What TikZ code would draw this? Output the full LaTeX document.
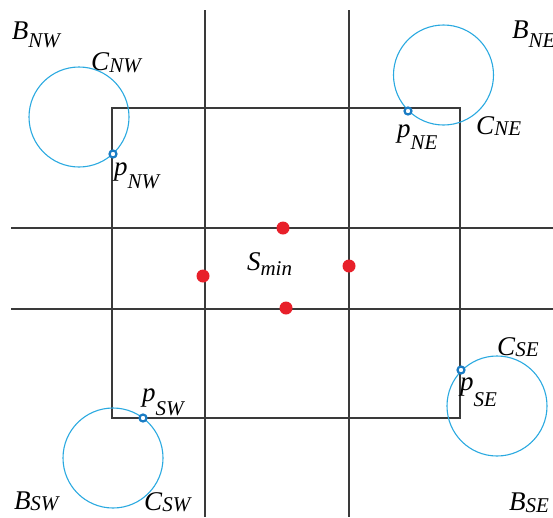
\documentclass[tikz,border=0pt]{standalone}
\usepackage{fontspec}
\setmainfont{Liberation Serif}
\newcommand{\lbl}[3]{\fontsize{27}{27}\selectfont\textit{#1}\raisebox{-#3pt}{\fontsize{21}{21}\selectfont\textit{#2}}}
\definecolor{linegray}{HTML}{3A3A3A}
\definecolor{circblue}{HTML}{2AA9E0}
\definecolor{ptblue}{HTML}{1A7CC4}
\definecolor{dotred}{HTML}{E8202A}
\begin{document}
\begin{tikzpicture}[x=1pt,y=-1pt,
  gridline/.style={draw=linegray,line width=1.3pt},
  region/.style={draw=linegray,line width=1.3pt},
  circ/.style={draw=circblue,line width=1.1pt},
  ptmark/.style={draw=ptblue,line width=2.2pt,fill=white},
  reddot/.style={fill=dotred,draw=none},
  lab/.style={anchor=base west,inner sep=0pt,outer sep=0pt}]
\useasboundingbox (0,0) rectangle (553,517);
% grid lines
\coordinate (v1t) at (205,10); \coordinate (v1b) at (205,517);
\coordinate (v2t) at (349,10); \coordinate (v2b) at (349,517);
\coordinate (h1l) at (11,228); \coordinate (h1r) at (553,228);
\coordinate (h2l) at (11,309); \coordinate (h2r) at (553,309);
\draw[gridline] (v1t) -- (v1b);
\draw[gridline] (v2t) -- (v2b);
\draw[gridline] (h1l) -- (h1r);
\draw[gridline] (h2l) -- (h2r);
% region rectangle
\coordinate (rnw) at (112,108); \coordinate (rse) at (460,418);
\draw[region] (rnw) rectangle (rse);
% circles
\coordinate (cnw) at (79,117);
\coordinate (cne) at (443.5,75);
\coordinate (cse) at (497,406);
\coordinate (csw) at (113,458);
\draw[circ] (cnw) circle[radius=50];
\draw[circ] (cne) circle[radius=50];
\draw[circ] (cse) circle[radius=50];
\draw[circ] (csw) circle[radius=50];
% points
\draw[ptmark] (113,154) circle[radius=3.5];
\draw[ptmark] (408,111) circle[radius=3.5];
\draw[ptmark] (461,370) circle[radius=3.5];
\draw[ptmark] (143,418) circle[radius=3.5];
% red dots
\fill[reddot] (283,228) circle[radius=6.5];
\fill[reddot] (203,276) circle[radius=6.5];
\fill[reddot] (349,266) circle[radius=6.5];
\fill[reddot] (286,308) circle[radius=6.5];
% labels
\node[lab] (lbnw) at (12,39) {\lbl{B}{NW}{8}};
\node[lab] (lcnw) at (91,70) {\lbl{C}{NW}{2}};
\node[lab] (lpnw) at (114,175) {\lbl{p}{NW}{13}};
\node[lab] (lbne) at (512,38) {\lbl{B}{NE}{9}};
\node[lab] (lcne) at (476,134) {\lbl{C}{NE}{1}};
\node[lab] (lpne) at (397,137) {\lbl{p}{NE}{12}};
\node[lab] (lcse) at (497,355) {\lbl{C}{SE}{1}};
\node[lab] (lpse) at (460,390) {\lbl{p}{SE}{16}};
\node[lab] (lbse) at (509,510) {\lbl{B}{SE}{2}};
\node[lab] (lbsw) at (14,509) {\lbl{B}{SW}{1}};
\node[lab] (lcsw) at (144,510) {\lbl{C}{SW}{1}};
\node[lab] (lpsw) at (142,401) {\lbl{p}{SW}{14}};
\node[lab] (lsmin) at (247,270) {\lbl{S}{min}{5}};
\end{tikzpicture}
\end{document}
